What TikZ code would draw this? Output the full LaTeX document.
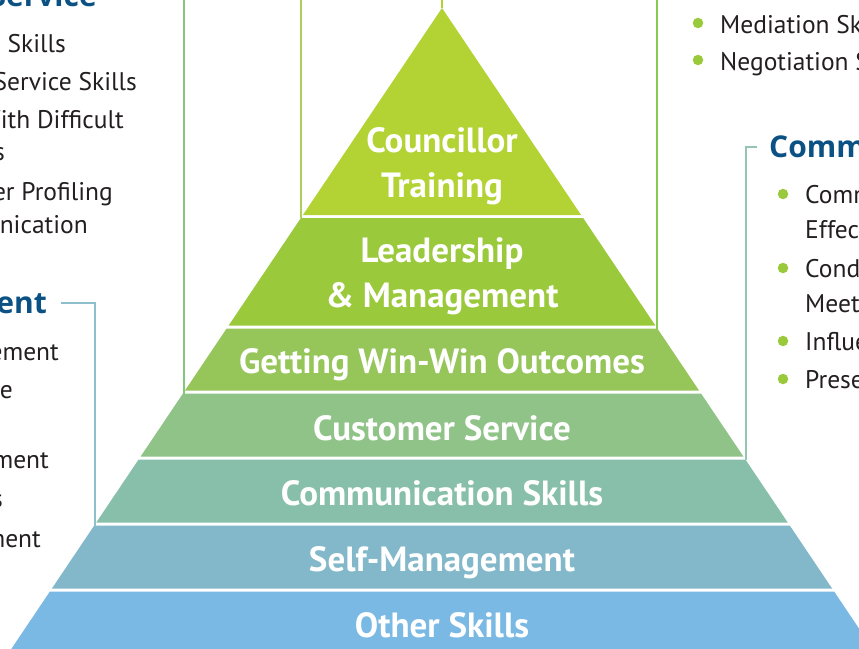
\documentclass[tikz,border=0pt]{standalone}
\usepackage{fontspec}
\setmainfont{PT Sans}
\newfontfamily\labfont{PT Sans}
\newfontfamily\headfont{Open Sans}
\definecolor{cA}{HTML}{B3D335}
\definecolor{cB}{HTML}{9BC93C}
\definecolor{cC}{HTML}{96C559}
\definecolor{cD}{HTML}{8FC387}
\definecolor{cE}{HTML}{88BFAA}
\definecolor{cF}{HTML}{82B8CA}
\definecolor{cG}{HTML}{7AB9E4}
\definecolor{headblue}{HTML}{0B5184}
\definecolor{bulgreen}{HTML}{9ACA3C}
\definecolor{txt}{HTML}{231F20}
\newcommand\tierpath[4]{%
  \fill[#4] ({442-0.672*(#2-8)},#2) coordinate (#1tl) -- ({442+0.672*(#2-8)},#2) coordinate (#1tr)
   -- ({442+0.672*(#3-8)},#3) coordinate (#1br) -- ({442-0.672*(#3-8)},#3) coordinate (#1bl) -- cycle;}
\tikzset{
  lab/.style={anchor=base, text=white, inner sep=0pt, font=\labfont\bfseries\fontsize{35}{40}\selectfont},
  body/.style={inner sep=0pt, text=txt, font=\fontsize{25.5}{30}\selectfont},
  bodyR/.style={body, anchor=base east},
  bodyL/.style={body, anchor=base west},
  head/.style={inner sep=0pt, text=headblue, font=\headfont\bfseries\fontsize{30}{36}\selectfont},
  bul/.style={circle, fill=bulgreen, inner sep=0pt, minimum size=10.5pt},
  conn/.style={line width=2pt},
}
\begin{document}
\begin{tikzpicture}[x=1pt,y=-1pt]
\useasboundingbox (0,0) rectangle (859,648);
\clip (0,0) rectangle (859,648);
% pyramid tiers
\tierpath{t1}{8}{215}{cA}
\tierpath{t2}{218}{325.5}{cB}
\tierpath{t3}{328.5}{390.5}{cC}
\tierpath{t4}{393.5}{456.5}{cD}
\tierpath{t5}{459.5}{522.5}{cE}
\tierpath{t6}{525.5}{588.5}{cF}
\tierpath{t7}{591.5}{670}{cG}
% labels
\node[lab] (l1a) at (442,152) {Councillor};
\node[lab] (l1b) at (442,197) {Training};
\node[lab] (l2a) at (442,262) {Leadership};
\node[lab] (l2b) at (442,307) {\& Management};
\node[lab] (l3) at (442,373) {Getting Win-Win Outcomes};
\node[lab] (l4) at (442,440) {Customer Service};
\node[lab] (l5) at (442,505) {Communication Skills};
\node[lab] (l6) at (442,571) {Self-Management};
\node[lab] (l7) at (442,637) {Other Skills};
% connectors
\coordinate (p1) at (442,-10);
\coordinate (p2) at (300.5,-10);
\coordinate (p3) at (183.5,-10);
\coordinate (p4) at (657,-10);
\coordinate (p5a) at (757,147);
\coordinate (p5b) at (746,147);
\coordinate (p6a) at (61,303);
\coordinate (p6b) at (95,303);
\draw[conn, cA] (p1) -- (t1tl);
\draw[conn, cB!85!white] (p2) -- (p2 |- t2tl);
\draw[conn, cD!90!green] (p3) -- (p3 |- t4tl);
\draw[conn, cC!90!green] (p4) -- (p4 |- t3tr);
\draw[conn, cE!90!white] (p5a) -- (p5b) -- (p5b |- t5tr);
\draw[conn, cF!90!white] (p6a) -- (p6b) -- (p6b |- t6tl);
% left top column (Customer Service)
\node[head, anchor=base east] (h1) at (97,6) {Customer Service};
\node[bodyR] (a1) at (66,52) {Listening Skills};
\node[bodyR] (a2) at (137,90) {Customer Service Skills};
\node[bodyR] (a3) at (124,128) {Dealing With Difficult};
\node[bodyR] (a4) at (5,160) {Customers};
\node[bodyR] (a5) at (113,200) {Customer Profiling};
\node[bodyR] (a6) at (88,233) {Communication};
% left middle column (Self-Management)
\node[head, anchor=base east] (h2) at (47,313) {Self-Management};
\node[bodyR] (b1) at (59,360) {Time Management};
\node[bodyR] (b2) at (13,398) {Resilience};
\node[bodyR] (b3) at (49,468) {Stress Management};
\node[bodyR] (b4) at (3,507) {Skills};
\node[bodyR] (b5) at (41,547) {Management};
% right top column
\node[bul] (c1b) at (698,23) {};
\node[bodyL] (c1) at (720,33) {Mediation Skills};
\node[bul] (c2b) at (698,60) {};
\node[bodyL] (c2) at (720,70) {Negotiation Skills};
% right column (Communication Skills)
\node[head, anchor=base west] (h3) at (769,157) {Communication Skills};
\node[bul] (d1b) at (783,194) {};
\node[bodyL] (d1) at (805,203) {Communicating};
\node[bodyL] (d1x) at (805,238) {Effectively};
\node[bul] (d2b) at (783,268) {};
\node[bodyL] (d2) at (805,277) {Conducting Effective};
\node[bodyL] (d2x) at (805,312) {Meetings};
\node[bul] (d3b) at (783,341) {};
\node[bodyL] (d3) at (805,350) {Influencing Skills};
\node[bul] (d4b) at (783,379) {};
\node[bodyL] (d4) at (805,388) {Presentation Skills};
\end{tikzpicture}
\end{document}
